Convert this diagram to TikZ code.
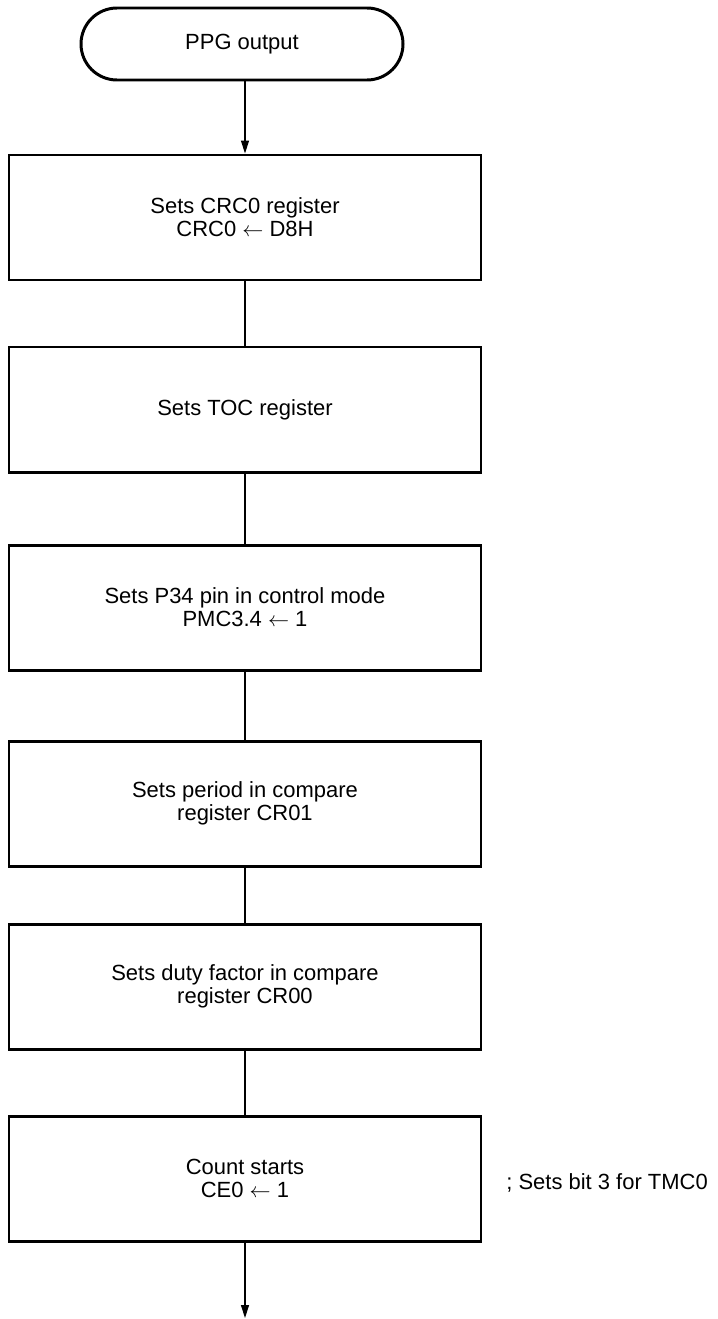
\documentclass[tikz,border=0pt]{standalone}
\usepackage{fontspec}
\setmainfont{Liberation Sans}
\usepackage{tikz}
\usetikzlibrary{arrows.meta,positioning}

\begin{document}
\begin{tikzpicture}[
  font=\fontsize{12.5pt}{13.2pt}\selectfont,
  term/.style={draw, line width=1.7pt, rounded corners=0.72cm, minimum width=6.44cm, minimum height=1.44cm, align=center},
  proc/.style={draw, line width=1.7pt, minimum width=9.44cm, minimum height=2.5cm, align=center},
  link/.style={line width=0.75pt},
  arr/.style={-{Triangle[length=0.26cm, width=0.16cm]}, line width=0.75pt}
]
  \useasboundingbox (0,0) rectangle (14.36,-26.38);

  \node[term] (start) at (4.84,-0.88) {PPG output};
  \node[proc] (crc) at (4.9,-4.35) {Sets CRC0 register\\CRC0 $\leftarrow$ D8H};
  \node[proc] (toc) at (4.9,-8.19) {Sets TOC register};
  \node[proc] (pmc) at (4.9,-12.15) {Sets P34 pin in control mode\\PMC3.4 $\leftarrow$ 1};
  \node[proc] (period) at (4.9,-16.07) {Sets period in compare\\register CR01};
  \node[proc] (duty) at (4.9,-19.73) {Sets duty factor in compare\\register CR00};
  \node[proc] (count) at (4.9,-23.57) {Count starts\\CE0 $\leftarrow$ 1};
  \coordinate (next) at (4.9,-26.36);

  \draw[arr] (start.south -| crc.north) -- (crc.north);
  \draw[link] (crc) -- (toc);
  \draw[link] (toc) -- (pmc);
  \draw[link] (pmc) -- (period);
  \draw[link] (period) -- (duty);
  \draw[link] (duty) -- (count);
  \draw[arr] (count) -- (next);

  % remark beside the last step
  \node[anchor=west, inner sep=0pt] (remark) at (10.12,-23.66) {; Sets bit 3 for TMC0};
\end{tikzpicture}
\end{document}
